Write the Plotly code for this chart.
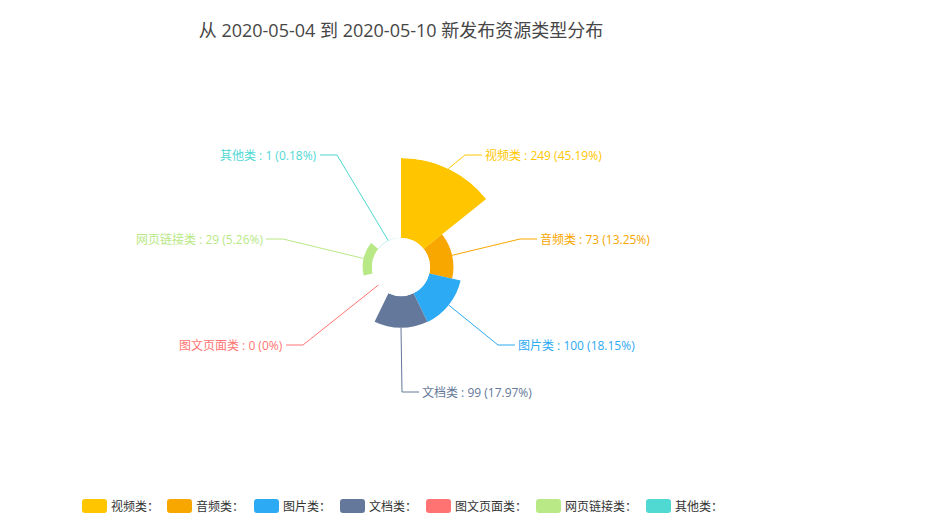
import math
import plotly.graph_objects as go

# ---------------- data ----------------
categories = ["视频类", "音频类", "图片类", "文档类", "图文页面类", "网页链接类", "其他类"]
values = [249, 73, 100, 99, 0, 29, 1]
title_text = "从 2020-05-04 到 2020-05-10 新发布资源类型分布"

# ---------------- styles / layout ----------------
colors = ["#FFC600", "#F8A600", "#2DAAF4", "#63789A", "#FF7472", "#B8E986", "#50D8D3"]
W, H = 929, 530
CX, CY = 401, 267          # pie centre (px)
R_OUT, R_IN = 109, 29      # outer radius of max value, inner hole radius (px)
label_elbows = [(465, 155), (520, 239), (498, 345), (402, 392),
                (303, 345), (283, 239), (337, 155)]
LINE2 = 17                 # horizontal leader length (px)
legend_icon_x = [82, 167, 254, 340, 426, 536, 646]
LEGEND_Y = 506
FONT = "Open Sans, Noto Sans CJK SC, Microsoft YaHei, sans-serif"


def px(x):
    return x / W


def py(y):
    return 1 - y / H


n = len(categories)
step = 360 / n
thetas = [(i + 0.5) * step for i in range(n)]
total = sum(values)
vmax = max(values)


def fmt_pct(v):
    s = f"{v / total * 100:.2f}".rstrip("0").rstrip(".")
    return s


fig = go.Figure()
fig.add_trace(go.Barpolar(
    r=values,
    theta=thetas,
    width=[step] * n,
    marker=dict(color=colors, line=dict(width=0)),
    customdata=categories,
    hovertemplate="%{customdata}: %{r}<extra></extra>",
    showlegend=False,
))

shapes = []
annotations = []

# labels with leader lines
for i, (name, v, col) in enumerate(zip(categories, values, colors)):
    ang = math.radians(thetas[i])
    rp = R_IN + (R_OUT - R_IN) * v / vmax
    sx = CX + rp * math.sin(ang)
    sy = CY - rp * math.cos(ang)
    ex, ey = label_elbows[i]
    right = ex >= CX
    tx = ex + (LINE2 if right else -LINE2)
    shapes.append(dict(
        type="path", xref="paper", yref="paper",
        path=f"M {px(sx)},{py(sy)} L {px(ex)},{py(ey)} L {px(tx)},{py(ey)}",
        line=dict(color=col, width=1),
    ))
    annotations.append(dict(
        x=px(tx + (1 if right else -1)), y=py(ey), xref="paper", yref="paper",
        xanchor="left" if right else "right", yanchor="middle",
        text=f"{name} : {v} ({fmt_pct(v)}%)", showarrow=False,
        font=dict(size=12, color=col, family=FONT),
    ))

# custom legend (rounded rectangles + text)
IW, IH, RR = 25, 14, 3
for i, (name, col) in enumerate(zip(categories, colors)):
    x0 = legend_icon_x[i]
    x1 = x0 + IW
    y0 = LEGEND_Y - IH / 2
    y1 = LEGEND_Y + IH / 2
    p = (f"M {px(x0 + RR)},{py(y0)} L {px(x1 - RR)},{py(y0)} "
         f"Q {px(x1)},{py(y0)} {px(x1)},{py(y0 + RR)} L {px(x1)},{py(y1 - RR)} "
         f"Q {px(x1)},{py(y1)} {px(x1 - RR)},{py(y1)} L {px(x0 + RR)},{py(y1)} "
         f"Q {px(x0)},{py(y1)} {px(x0)},{py(y1 - RR)} L {px(x0)},{py(y0 + RR)} "
         f"Q {px(x0)},{py(y0)} {px(x0 + RR)},{py(y0)} Z")
    shapes.append(dict(type="path", xref="paper", yref="paper", path=p,
                       fillcolor=col, line=dict(width=0)))
    annotations.append(dict(
        x=px(x0 + 27), y=py(LEGEND_Y), xref="paper", yref="paper",
        xanchor="left", yanchor="middle", text=f"{name}：", showarrow=False,
        font=dict(size=12, color="#333333", family=FONT),
    ))

fig.update_layout(
    width=W, height=H,
    margin=dict(l=0, r=0, t=0, b=0),
    paper_bgcolor="white",
    plot_bgcolor="white",
    title=dict(text=title_text, x=px(CX), xanchor="center", xref="paper",
               y=py(31), yref="container", yanchor="middle",
               font=dict(size=18, color="#464646", family=FONT)),
    polar=dict(
        domain=dict(x=[px(CX - R_OUT), px(CX + R_OUT)],
                    y=[py(CY + R_OUT), py(CY - R_OUT)]),
        hole=R_IN / R_OUT,
        bgcolor="rgba(0,0,0,0)",
        angularaxis=dict(visible=False, rotation=90, direction="clockwise",
                         showgrid=False, showline=False, ticks=""),
        radialaxis=dict(visible=False, range=[0, vmax], showgrid=False,
                        showline=False, ticks=""),
    ),
    shapes=shapes,
    annotations=annotations,
    showlegend=False,
)

fig.write_html("out.html")
